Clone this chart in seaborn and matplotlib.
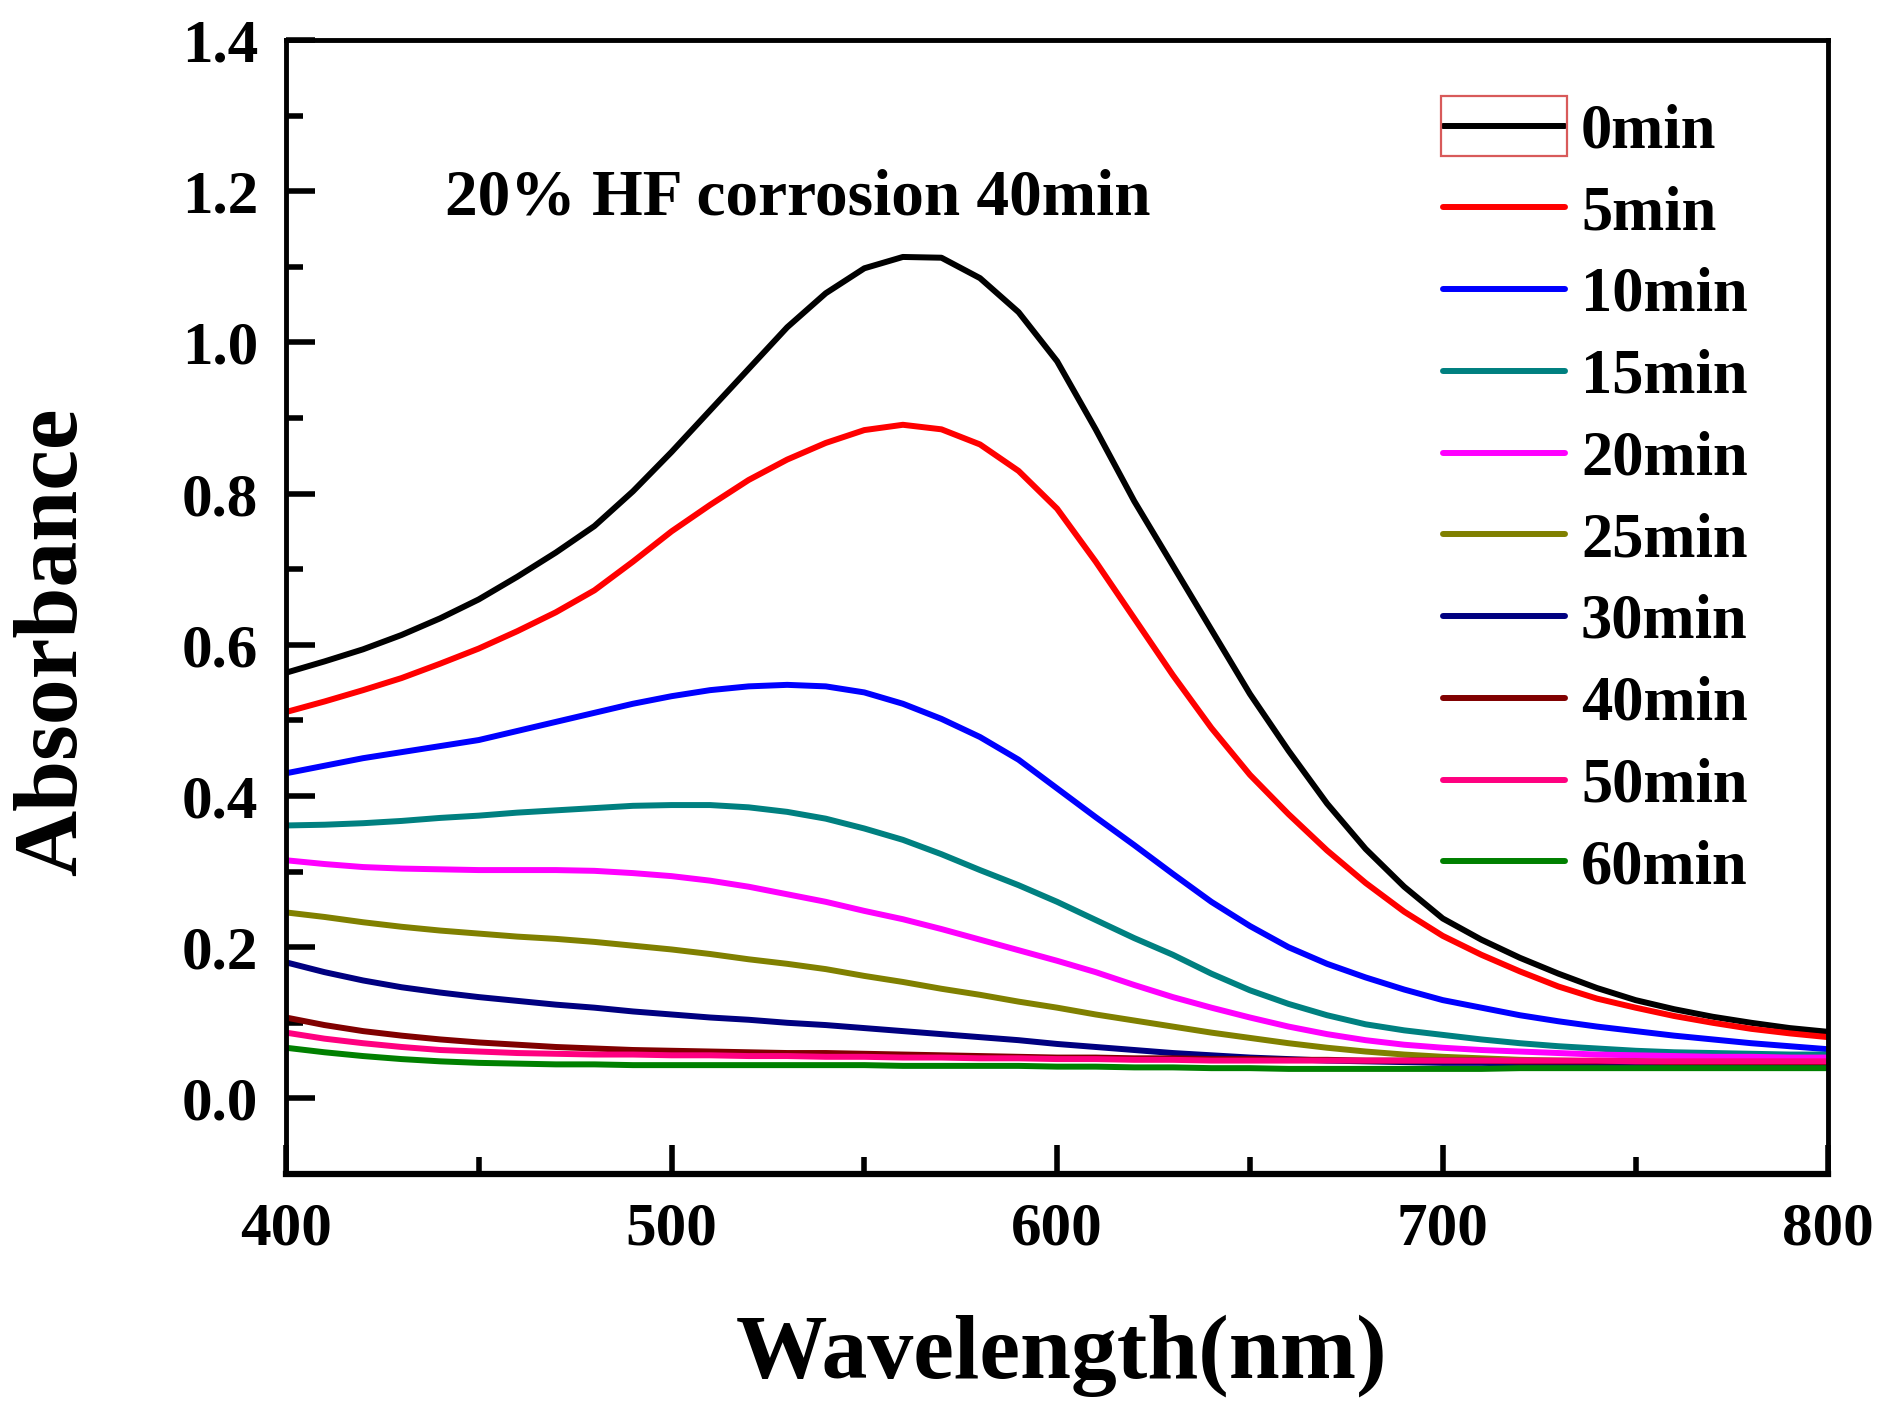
import matplotlib
matplotlib.use("Agg")
import matplotlib.pyplot as plt
from matplotlib.ticker import MultipleLocator, FormatStrFormatter
from matplotlib.patches import Rectangle
import pandas as pd
import seaborn as sns

# Wavelength grid (nm)
wavelength = list(range(400, 801, 10))

# Absorbance spectra after each immersion time
abs_0min = [0.563, 0.578, 0.594, 0.613, 0.635, 0.660, 0.690, 0.722, 0.757, 0.803,
            0.855, 0.910, 0.965, 1.020, 1.065, 1.098, 1.113, 1.112, 1.085, 1.040,
            0.975, 0.885, 0.790, 0.705, 0.620, 0.535, 0.460, 0.390, 0.330, 0.280,
            0.238, 0.210, 0.186, 0.165, 0.146, 0.130, 0.118, 0.108, 0.100, 0.093,
            0.088]
abs_5min = [0.511, 0.525, 0.540, 0.556, 0.575, 0.595, 0.618, 0.643, 0.672, 0.710,
            0.750, 0.785, 0.818, 0.845, 0.867, 0.884, 0.891, 0.885, 0.865, 0.830,
            0.780, 0.710, 0.635, 0.560, 0.490, 0.428, 0.376, 0.328, 0.285, 0.247,
            0.215, 0.190, 0.168, 0.148, 0.132, 0.120, 0.109, 0.100, 0.092, 0.086,
            0.081]
abs_10min = [0.430, 0.440, 0.450, 0.458, 0.466, 0.474, 0.486, 0.498, 0.510, 0.522,
             0.532, 0.540, 0.545, 0.547, 0.545, 0.537, 0.522, 0.502, 0.478, 0.448,
             0.410, 0.372, 0.335, 0.297, 0.260, 0.228, 0.200, 0.178, 0.160, 0.144,
             0.130, 0.120, 0.110, 0.102, 0.095, 0.089, 0.083, 0.078, 0.073, 0.069,
             0.065]
abs_15min = [0.361, 0.362, 0.364, 0.367, 0.371, 0.374, 0.378, 0.381, 0.384, 0.387,
             0.388, 0.388, 0.385, 0.379, 0.370, 0.357, 0.342, 0.323, 0.302, 0.282,
             0.260, 0.236, 0.212, 0.190, 0.165, 0.143, 0.125, 0.110, 0.098, 0.090,
             0.084, 0.078, 0.073, 0.069, 0.066, 0.063, 0.061, 0.060, 0.059, 0.058,
             0.058]
abs_20min = [0.315, 0.310, 0.306, 0.304, 0.303, 0.302, 0.302, 0.302, 0.301, 0.298,
             0.294, 0.288, 0.280, 0.270, 0.260, 0.248, 0.237, 0.224, 0.210, 0.196,
             0.182, 0.167, 0.150, 0.134, 0.120, 0.107, 0.095, 0.085, 0.077, 0.071,
             0.067, 0.064, 0.062, 0.060, 0.058, 0.057, 0.056, 0.055, 0.055, 0.054,
             0.054]
abs_25min = [0.246, 0.240, 0.233, 0.227, 0.222, 0.218, 0.214, 0.211, 0.207, 0.202,
             0.197, 0.191, 0.184, 0.178, 0.171, 0.162, 0.154, 0.145, 0.137, 0.128,
             0.120, 0.111, 0.103, 0.095, 0.087, 0.080, 0.073, 0.067, 0.062, 0.058,
             0.055, 0.053, 0.051, 0.050, 0.049, 0.048, 0.048, 0.047, 0.047, 0.046,
             0.046]
abs_30min = [0.180, 0.167, 0.156, 0.147, 0.140, 0.134, 0.129, 0.124, 0.120, 0.115,
             0.111, 0.107, 0.104, 0.100, 0.097, 0.093, 0.089, 0.085, 0.081, 0.077,
             0.072, 0.068, 0.064, 0.060, 0.057, 0.054, 0.052, 0.050, 0.049, 0.048,
             0.047, 0.047, 0.046, 0.046, 0.046, 0.046, 0.046, 0.046, 0.046, 0.046,
             0.046]
abs_40min = [0.107, 0.097, 0.089, 0.083, 0.078, 0.074, 0.071, 0.068, 0.066, 0.064,
             0.063, 0.062, 0.061, 0.060, 0.060, 0.059, 0.058, 0.057, 0.056, 0.055,
             0.054, 0.054, 0.053, 0.053, 0.052, 0.052, 0.051, 0.051, 0.050, 0.050,
             0.050, 0.050, 0.049, 0.049, 0.049, 0.049, 0.048, 0.048, 0.048, 0.048,
             0.048]
abs_50min = [0.087, 0.079, 0.073, 0.068, 0.064, 0.062, 0.060, 0.059, 0.058, 0.058,
             0.057, 0.057, 0.056, 0.056, 0.055, 0.055, 0.054, 0.054, 0.053, 0.053,
             0.052, 0.052, 0.051, 0.051, 0.050, 0.050, 0.050, 0.050, 0.050, 0.050,
             0.050, 0.050, 0.050, 0.050, 0.050, 0.049, 0.049, 0.049, 0.049, 0.049,
             0.049]
abs_60min = [0.067, 0.061, 0.056, 0.052, 0.049, 0.047, 0.046, 0.045, 0.045, 0.044,
             0.044, 0.044, 0.044, 0.044, 0.044, 0.044, 0.043, 0.043, 0.043, 0.043,
             0.042, 0.042, 0.041, 0.041, 0.040, 0.040, 0.039, 0.039, 0.039, 0.039,
             0.039, 0.039, 0.040, 0.040, 0.040, 0.040, 0.040, 0.040, 0.040, 0.040,
             0.040]

times = ["0min", "5min", "10min", "15min", "20min", "25min", "30min", "40min", "50min", "60min"]
spectra = [abs_0min, abs_5min, abs_10min, abs_15min, abs_20min,
           abs_25min, abs_30min, abs_40min, abs_50min, abs_60min]
colors = ["#000000", "#FF0000", "#0000FF", "#008080", "#FF00FF",
          "#808000", "#000080", "#800000", "#FF0080", "#008000"]

df = pd.concat(
    [pd.DataFrame({"Wavelength": wavelength, "Absorbance": s, "Time": t})
     for t, s in zip(times, spectra)],
    ignore_index=True,
)

sns.set_theme(style="white")
plt.rcParams["font.family"] = ["Liberation Serif", "DejaVu Serif"]
plt.rcParams["font.weight"] = "bold"
plt.rcParams["text.color"] = "black"
plt.rcParams["axes.labelcolor"] = "black"
plt.rcParams["xtick.color"] = "black"
plt.rcParams["ytick.color"] = "black"

fig = plt.figure(figsize=(18.81, 14.08), dpi=100)
ax = fig.add_axes([0.152, 0.1662, 0.820, 0.8054])

sns.lineplot(data=df, x="Wavelength", y="Absorbance", hue="Time",
             hue_order=times, palette=dict(zip(times, colors)),
             linewidth=4.3, ax=ax, legend=True)

ax.set_xlim(400, 800)
ax.set_ylim(-0.1, 1.4)
ax.xaxis.set_major_locator(MultipleLocator(100))
ax.xaxis.set_minor_locator(MultipleLocator(50))
ax.yaxis.set_major_locator(MultipleLocator(0.2))
ax.yaxis.set_minor_locator(MultipleLocator(0.1))
ax.yaxis.set_major_formatter(FormatStrFormatter("%.1f"))

ax.tick_params(axis="both", which="major", direction="in", length=21, width=4,
               labelsize=44, pad=20, color="black", labelcolor="black")
ax.tick_params(axis="both", which="minor", direction="in", length=12, width=4,
               color="black")
ax.tick_params(top=False, right=False, which="both")
ax.tick_params(bottom=True, left=True, which="both")
for lab in ax.get_xticklabels() + ax.get_yticklabels():
    lab.set_fontweight("bold")

for side, sp in ax.spines.items():
    sp.set_visible(True)
    sp.set_color("black")
    sp.set_linewidth(3.5)
ax.spines["bottom"].set_linewidth(4.5)

ax.set_xlabel("Wavelength(nm)", fontsize=66, fontweight="bold", va="center", color="black")
ax.set_ylabel("Absorbance", fontsize=66, fontweight="bold", va="center", color="black")
ax.xaxis.set_label_coords(0.503, -0.1605)
ax.yaxis.set_label_coords(-0.150, 0.469)

ax.text(532.7, 1.19, "20% HF corrosion 40min", fontsize=47, fontweight="bold",
        ha="center", va="center", color="black")

handles, labels = ax.get_legend_handles_labels()
leg = ax.legend(handles, labels, loc="upper left", bbox_to_anchor=(0.7505, 0.944),
                frameon=False, handlelength=1.95, handletextpad=0.25,
                labelspacing=0.38, borderpad=0, borderaxespad=0,
                prop={"weight": "bold", "size": 45})
for line in leg.get_lines():
    line.set_linewidth(4.3)
for txt in leg.get_texts():
    txt.set_color("black")

# Thin red box around the first legend sample
fig.canvas.draw()
bb = leg.get_lines()[0].get_window_extent(fig.canvas.get_renderer())
inv = fig.transFigure.inverted()
(x0, y0), (x1, y1) = inv.transform([(bb.x0 - 2, bb.y0 - 30), (bb.x1 + 2, bb.y1 + 30)])
fig.add_artist(Rectangle((x0, y0), x1 - x0, y1 - y0, transform=fig.transFigure,
                         fill=False, edgecolor="#D85A5A", linewidth=1.6))

fig.savefig("out.png", dpi=100, facecolor="white")
